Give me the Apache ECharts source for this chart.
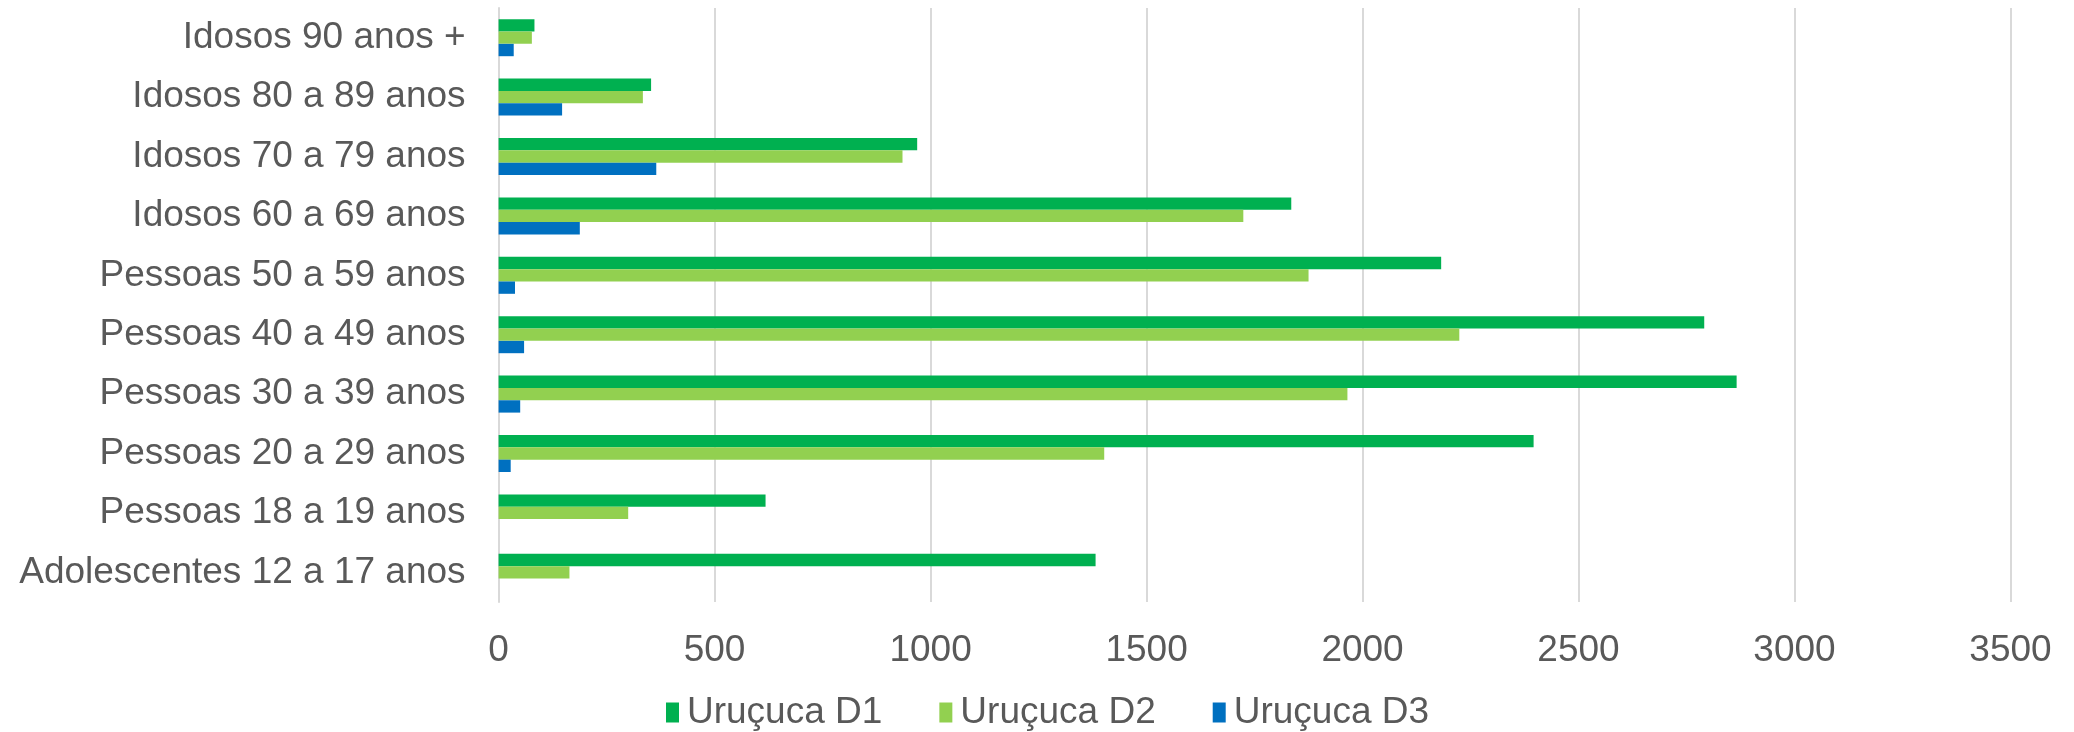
<!DOCTYPE html>
<html>
<head>
<meta charset="utf-8">
<style>
  html, body { margin: 0; padding: 0; background: #ffffff; }
  #chart { width: 2074px; height: 732px; }
</style>
<script src="https://cdn.jsdelivr.net/npm/echarts@6/dist/echarts.min.js"></script>
</head>
<body>
<div id="chart"></div>
<script>
// Age groups, listed from the bottom of the axis upwards
const categories = [
  'Adolescentes 12 a 17 anos',
  'Pessoas 18 a 19 anos',
  'Pessoas 20 a 29 anos',
  'Pessoas 30 a 39 anos',
  'Pessoas 40 a 49 anos',
  'Pessoas 50 a 59 anos',
  'Idosos 60 a 69 anos',
  'Idosos 70 a 79 anos',
  'Idosos 80 a 89 anos',
  'Idosos 90 anos +'
];

// Doses applied per age group
const doseD1 = [1382, 618, 2396, 2866, 2791, 2182, 1835, 969, 353, 83];
const doseD2 = [164, 300, 1402, 1965, 2224, 1875, 1724, 935, 334, 77];
const doseD3 = [0, 0, 28, 50, 59, 38, 188, 365, 147, 35];

const seriesNames = ['Uruçuca D1', 'Uruçuca D2', 'Uruçuca D3'];
const seriesColors = ['#00B050', '#92D050', '#0070C0'];
const seriesData = [doseD1, doseD2, doseD3];

const xTicks = { min: 0, max: 3500, interval: 500 };

const textColor = '#595959';
const fontFamily = '"Liberation Sans", Arial, sans-serif';

// D1 on top of each group, D3 at the bottom
const series = [0, 1, 2].map(i => ({
  name: seriesNames[i],
  type: 'bar',
  data: seriesData[i],
  itemStyle: { color: seriesColors[i] },
  barGap: '0%',
  barCategoryGap: '37.7%',
  emphasis: { disabled: true }
}));

const chart = echarts.init(document.getElementById('chart'), null, { renderer: 'canvas' });
chart.setOption({
  animation: false,
  backgroundColor: '#ffffff',
  textStyle: { fontFamily: fontFamily, color: textColor },
  grid: { left: 498.6, right: 63.5, top: 8, bottom: 130, containLabel: false },
  legend: {
    data: seriesNames,
    bottom: -4,
    left: 661,
    itemWidth: 13,
    itemHeight: 20,
    itemGap: 57,
    icon: 'rect',
    textStyle: { fontSize: 37, color: textColor, fontFamily: fontFamily, padding: [0, 0, 0, 3] }
  },
  xAxis: {
    type: 'value',
    min: xTicks.min,
    max: xTicks.max,
    interval: xTicks.interval,
    axisLine: { show: false },
    axisTick: { show: false },
    axisLabel: {
      fontSize: 37, color: textColor, margin: 30, fontFamily: fontFamily,
      formatter: v => String(v)
    },
    splitLine: { show: true, lineStyle: { color: '#d9d9d9', width: 2 } }
  },
  yAxis: {
    type: 'category',
    data: categories,
    axisLine: { show: true, lineStyle: { color: '#d9d9d9', width: 2 } },
    axisTick: { show: false },
    axisLabel: { fontSize: 37, color: textColor, margin: 33, fontFamily: fontFamily },
    splitLine: { show: false }
  },
  series: series
});
</script>
</body>
</html>
